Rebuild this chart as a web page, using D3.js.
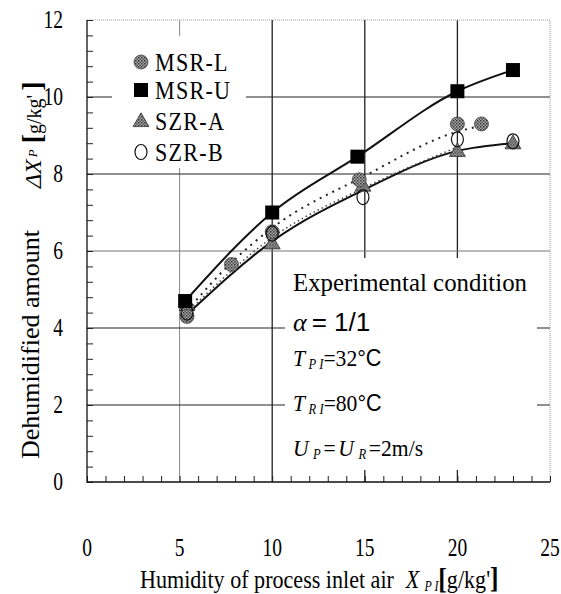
<!DOCTYPE html>
<html>
<head>
<meta charset="utf-8">
<script src="https://cdn.jsdelivr.net/npm/d3@7"></script>
<style>
  body { margin: 0; background: #fff; }
  text { font-family: "Liberation Serif", serif; fill: #000; }
</style>
</head>
<body>
<script>
// ---------------------------------------------------------------
// datos
const xTicks = [0, 5, 10, 15, 20, 25];
const yTicks = [0, 2, 4, 6, 8, 10, 12];
const seriesNames = ["MSR-L", "MSR-U", "SZR-A", "SZR-B"];

const msrL = [[5.4, 4.3], [7.8, 5.65], [10, 6.5], [14.7, 7.85], [20, 9.3], [21.3, 9.3]];
const msrU = [[5.3, 4.7], [10, 7.0], [14.6, 8.45], [20, 10.15], [23, 10.7]];
const szrA = [[5.4, 4.6], [10, 6.2], [14.9, 7.7], [20, 8.6], [23, 8.8]];
const szrB = [[5.4, 4.4], [10, 6.45], [14.9, 7.4], [20, 8.9], [23, 8.85]];

// curvas de ajuste (leidas tambien)
const fitU = [[5.3, 4.7], [10, 7.0], [14.6, 8.45], [20, 10.15], [23, 10.7]];
const fitL = [[5.4, 4.45], [7.8, 5.7], [10, 6.6], [15, 7.95], [20, 9.1], [21.3, 9.25]];
const fitB = [[5.4, 4.4], [10, 6.35], [15, 7.65], [20, 8.7]];
const fitA = [[5.4, 4.35], [10, 6.25], [15, 7.6], [20, 8.6], [23, 8.8]];

// ---------------------------------------------------------------
const WIDTH = 561, HEIGHT = 594;
const mLeft = 87, mRight = 550, mTop = 20, mBottom = 482;

const x = d3.scaleLinear().domain([0, 25]).range([mLeft, mRight]);
const y = d3.scaleLinear().domain([0, 12]).range([mBottom, mTop]);

const svg = d3.select("body").append("svg")
    .attr("width", WIDTH)
    .attr("height", HEIGHT);

// textura gris punteada para los marcadores
const defs = svg.append("defs");
const pat = defs.append("pattern").attr("id", "stip")
    .attr("width", 3).attr("height", 3).attr("patternUnits", "userSpaceOnUse");
pat.append("rect").attr("width", 3).attr("height", 3).attr("fill", "#a8a8a8");
pat.append("rect").attr("width", 1.5).attr("height", 1.5).attr("fill", "#333");
pat.append("rect").attr("x", 1.5).attr("y", 1.5).attr("width", 1.5).attr("height", 1.5).attr("fill", "#555");

// texto comprimido (la fuente original es condensada)
function ctext(g, px, py, k) {
    return g.append("text").attr("transform", "translate(" + px + "," + py + ") scale(" + k + ",1)");
}

// grilla
svg.append("g").selectAll("line").data([5, 10, 15, 20]).enter().append("line")
    .attr("x1", d => x(d)).attr("x2", d => x(d))
    .attr("y1", mTop).attr("y2", mBottom)
    .attr("stroke", d => d == 5 ? "#888" : "#222")
    .attr("stroke-width", d => d == 5 ? 1 : 1.3);

svg.append("g").selectAll("line").data([2, 4, 6, 8, 10]).enter().append("line")
    .attr("x1", mLeft).attr("x2", mRight)
    .attr("y1", d => y(d)).attr("y2", d => y(d))
    .attr("stroke", d => d == 6 ? "#777" : "#222")
    .attr("stroke-width", 1.2);

// borde superior y derecho punteado
svg.append("path")
    .attr("d", "M" + mLeft + "," + mTop + "H" + mRight + "V" + mBottom)
    .attr("fill", "none").attr("stroke", "#999").attr("stroke-width", 1)
    .attr("stroke-dasharray", "1,1");

// ejes con ticks menores hacia adentro
svg.append("g")
    .attr("transform", "translate(" + mLeft + ",0)")
    .call(d3.axisRight(y).tickValues(d3.range(0, 12.01, 0.4)).tickSize(6).tickFormat(""))
    .call(g => g.select(".domain").remove())
    .selectAll("line").attr("stroke", "#222");

svg.append("g")
    .attr("transform", "translate(0," + mBottom + ")")
    .call(d3.axisTop(x).tickValues(d3.range(0, 25.01, 1)).tickSize(6).tickFormat(""))
    .call(g => g.select(".domain").remove())
    .selectAll("line").attr("stroke", "#222");

svg.append("path")
    .attr("d", "M" + mLeft + "," + mTop + "V" + mBottom + "H" + mRight)
    .attr("fill", "none").attr("stroke", "#111").attr("stroke-width", 1.3);

// etiquetas de los ticks
yTicks.forEach(v => {
    ctext(svg, 63, y(v) + 8, 0.78).attr("text-anchor", "end")
        .attr("font-size", 25).text(v);
});
xTicks.forEach(v => {
    ctext(svg, x(v), 556, 0.78).attr("text-anchor", "middle")
        .attr("font-size", 25).text(v);
});

// cuadros blancos (leyenda y condiciones)
svg.append("rect").attr("x", 112).attr("y", 36).attr("width", 134).attr("height", 132).attr("fill", "#fff");
svg.append("rect").attr("x", 285).attr("y", 258).attr("width", 252).attr("height", 212).attr("fill", "#fff");

// curvas
const line = d3.line().x(d => x(d[0])).y(d => y(d[1])).curve(d3.curveMonotoneX);

svg.append("path").datum(fitU).attr("d", line)
    .attr("fill", "none").attr("stroke", "#111").attr("stroke-width", 2);
svg.append("path").datum(fitA).attr("d", line)
    .attr("fill", "none").attr("stroke", "#111").attr("stroke-width", 2);
svg.append("path").datum(fitL).attr("d", line)
    .attr("fill", "none").attr("stroke", "#222").attr("stroke-width", 2)
    .attr("stroke-dasharray", "2,5");
svg.append("path").datum(fitB).attr("d", line)
    .attr("fill", "none").attr("stroke", "#444").attr("stroke-width", 1.5)
    .attr("stroke-dasharray", "1.5,3");

// marcadores
function drawMarker(g, type, cx, cy) {
    if (type == "MSR-L") {
        g.append("circle").attr("cx", cx).attr("cy", cy).attr("r", 7)
            .attr("fill", "url(#stip)").attr("stroke", "#444").attr("stroke-width", 0.8);
    } else if (type == "MSR-U") {
        g.append("rect").attr("x", cx - 7).attr("y", cy - 7).attr("width", 14).attr("height", 14)
            .attr("fill", "#000");
    } else if (type == "SZR-A") {
        g.append("path")
            .attr("d", d3.symbol().type(d3.symbolTriangle).size(110)())
            .attr("transform", "translate(" + cx + "," + (cy + 1) + ")")
            .attr("fill", "url(#stip)").attr("stroke", "#333").attr("stroke-width", 0.8);
    } else {
        g.append("ellipse").attr("cx", cx).attr("cy", cy).attr("rx", 6).attr("ry", 7.5)
            .attr("fill", "none").attr("stroke", "#111").attr("stroke-width", 1.2);
    }
}

const allData = { "MSR-L": msrL, "MSR-U": msrU, "SZR-A": szrA, "SZR-B": szrB };
const pts = svg.append("g");
["SZR-A", "MSR-L", "SZR-B", "MSR-U"].forEach(k => {
    allData[k].forEach(p => drawMarker(pts, k, x(p[0]), y(p[1])));
});

// leyenda
const legendY = [62, 90, 121, 152];
seriesNames.forEach((name, i) => {
    drawMarker(svg, name, 141, legendY[i]);
    ctext(svg, 155, legendY[i] + 9, 0.85).attr("font-size", 26)
        .attr("letter-spacing", 1.5).text(name);
});

// condiciones experimentales
const tx = 293;
ctext(svg, tx, 291, 1).attr("font-size", 26)
    .attr("textLength", 234).attr("lengthAdjust", "spacingAndGlyphs")
    .text("Experimental condition");

let a = ctext(svg, tx, 331, 1).attr("font-size", 26);
a.append("tspan").attr("font-style", "italic").text("α");
a.append("tspan").attr("font-family", "Liberation Sans, sans-serif").attr("dx", 5).text("= 1/1");

function tempLine(py, sub, val) {
    let t = ctext(svg, tx, py, 0.9).attr("font-size", 24);
    t.append("tspan").attr("font-style", "italic").text("T");
    t.append("tspan").attr("font-style", "italic").attr("font-size", 14).attr("dx", 4).attr("dy", 3).text("P I");
    t.select("tspan:last-child").text(sub);
    t.append("tspan").attr("dy", -3).text("=" + val);
    t.append("tspan").attr("font-family", "Liberation Sans, sans-serif").text("°C");
}
tempLine(366, "P I", "32");
tempLine(411, "R I", "80");

let u = ctext(svg, tx, 456, 0.9).attr("font-size", 24);
u.append("tspan").attr("font-style", "italic").text("U");
u.append("tspan").attr("font-style", "italic").attr("font-size", 14).attr("dx", 5).attr("dy", 3).text("P");
u.append("tspan").attr("dy", -3).attr("dx", 3).text("=");
u.append("tspan").attr("font-style", "italic").attr("dx", 3).text("U");
u.append("tspan").attr("font-style", "italic").attr("font-size", 14).attr("dx", 5).attr("dy", 3).text("R");
u.append("tspan").attr("dy", -3).attr("dx", 3).text("=2m/s");

// titulos de los ejes
svg.append("text")
    .attr("transform", "translate(39,459) rotate(-90)")
    .attr("font-size", 25)
    .attr("textLength", 229).attr("lengthAdjust", "spacingAndGlyphs")
    .text("Dehumidified amount");

let yt = svg.append("text")
    .attr("transform", "translate(41,188) rotate(-90)")
    .attr("font-size", 24);
yt.append("tspan").attr("font-style", "italic").text("ΔX");
yt.append("tspan").attr("font-style", "italic").attr("font-size", 13).attr("dx", 2).attr("dy", -4).text("P");
yt.append("tspan").attr("font-weight", "bold").attr("font-size", 28).attr("dx", 6).attr("dy", 4).text("[");
yt.append("tspan").attr("font-size", 20).text("g/kg'");
yt.append("tspan").attr("font-weight", "bold").attr("font-size", 28).attr("dx", 4).text("]");

let xt = ctext(svg, 140, 588, 0.85).attr("font-size", 26);
xt.append("tspan").text("Humidity of process inlet air");
xt.append("tspan").attr("font-style", "italic").attr("dx", 14).text("X");
xt.append("tspan").attr("font-style", "italic").attr("font-size", 14).attr("dx", 6).attr("dy", 3).text("P  I");
xt.append("tspan").attr("font-weight", "bold").attr("font-size", 30).attr("dy", -2).text("[");
xt.append("tspan").attr("dy", -1).text("g/kg'");
xt.append("tspan").attr("font-weight", "bold").attr("font-size", 30).text("]");
</script>
</body>
</html>
